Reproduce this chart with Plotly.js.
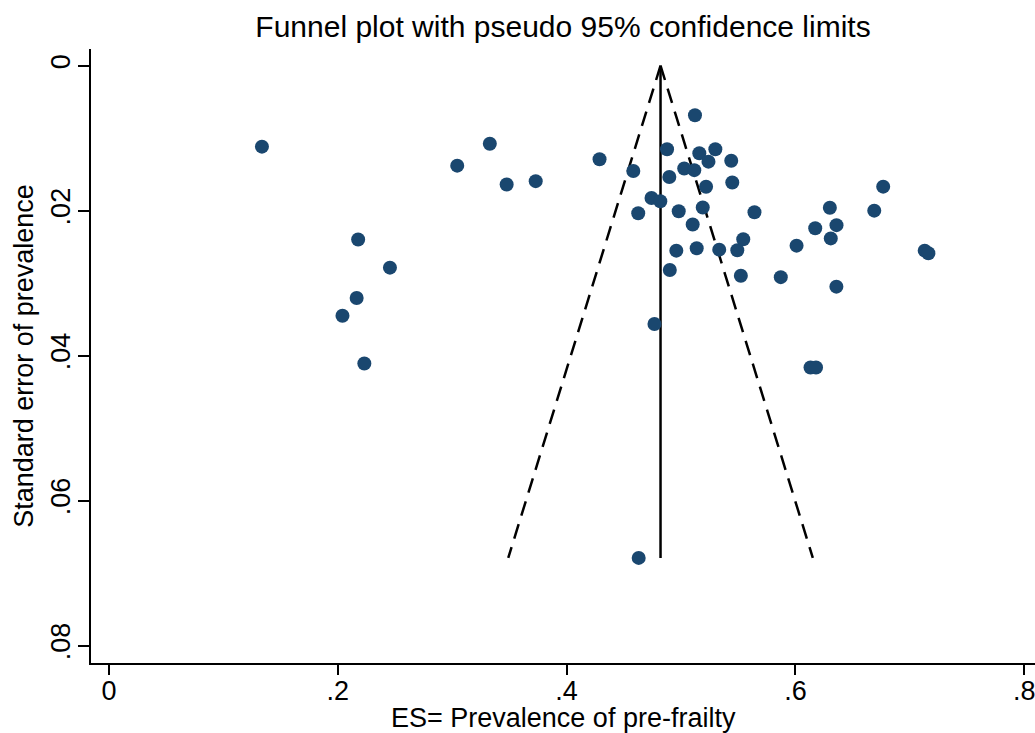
<!DOCTYPE html>
<html>
<head>
<meta charset="utf-8">
<script src="https://cdn.plot.ly/plotly-3.0.1.min.js"></script>
<style>
  html, body { margin: 0; padding: 0; background: #ffffff; }
  #chart { width: 1035px; height: 733px; }
</style>
</head>
<body>
<div id="chart"></div>
<script>
// Study effect sizes (prevalence of pre-frailty) and their standard errors
const es = [
  0.1337, 0.3329, 0.3044, 0.3476, 0.3730, 0.4288, 0.4583, 0.4626, 0.4742, 0.4819,
  0.4878, 0.4898, 0.5028, 0.5116, 0.5122, 0.5160, 0.5300, 0.5240, 0.5439, 0.5219,
  0.5448, 0.4980, 0.5190, 0.5642, 0.5102, 0.5544, 0.5492, 0.5334, 0.5137, 0.4959,
  0.4902, 0.5523, 0.5872, 0.6010, 0.6173, 0.6301, 0.6359, 0.6309, 0.6358, 0.6689,
  0.6767, 0.7130, 0.7162, 0.2178, 0.2456, 0.2165, 0.2041, 0.2232, 0.4768, 0.6132,
  0.6180, 0.4630
];
const se = [
  0.01117, 0.01077, 0.01379, 0.01639, 0.01593, 0.01290, 0.01452, 0.02036, 0.01825, 0.01870,
  0.01152, 0.01535, 0.01418, 0.01441, 0.00683, 0.01208, 0.01153, 0.01324, 0.01312, 0.01670,
  0.01611, 0.02008, 0.01956, 0.02022, 0.02190, 0.02394, 0.02546, 0.02538, 0.02519, 0.02552,
  0.02818, 0.02898, 0.02917, 0.02483, 0.02243, 0.01960, 0.02200, 0.02383, 0.03048, 0.02000,
  0.01669, 0.02552, 0.02588, 0.02397, 0.02786, 0.03204, 0.03450, 0.04108, 0.03563, 0.04163,
  0.04163, 0.06790
];

// Pooled estimate line and pseudo 95% confidence limits
const pooledX = [0.4821, 0.4821];
const pooledY = [0, 0.0679];
const lowerLimitX = [0.4821, 0.3490];
const lowerLimitY = [0, 0.0679];
const upperLimitX = [0.4821, 0.6152];
const upperLimitY = [0, 0.0679];

// Tick values and labels
const xTickVals = [0, 0.2, 0.4, 0.6, 0.8];
const xTickText = ["0", ".2", ".4", ".6", ".8"];
const yTickVals = [0, 0.02, 0.04, 0.06, 0.08];
const yTickText = ["0", ".02", ".04", ".06", ".08"];

const FONT = "Liberation Sans, Arial, Helvetica, sans-serif";

const traces = [
  {
    x: lowerLimitX, y: lowerLimitY, type: "scatter", mode: "lines",
    line: { color: "#000000", width: 2.5, dash: "15px,9px" },
    hoverinfo: "skip", showlegend: false
  },
  {
    x: upperLimitX, y: upperLimitY, type: "scatter", mode: "lines",
    line: { color: "#000000", width: 2.5, dash: "15px,9px" },
    hoverinfo: "skip", showlegend: false
  },
  {
    x: pooledX, y: pooledY, type: "scatter", mode: "lines",
    line: { color: "#000000", width: 2.5 },
    hoverinfo: "skip", showlegend: false
  },
  {
    x: es, y: se, type: "scatter", mode: "markers",
    marker: { color: "#1a476f", size: 14, line: { width: 0 } },
    showlegend: false
  }
];

const layout = {
  width: 1035, height: 733,
  paper_bgcolor: "#ffffff", plot_bgcolor: "#ffffff",
  margin: { l: 91, r: 0, t: 49, b: 70, pad: 0 },
  font: { family: FONT, color: "#000000", size: 27 },
  title: {
    text: "Funnel plot with pseudo 95% confidence limits",
    font: { family: FONT, size: 30, color: "#000000" },
    x: 0.5, xref: "paper", xanchor: "center",
    y: 1 - 26 / 733, yref: "container", yanchor: "middle"
  },
  annotations: [
    {
      text: "ES= Prevalence of pre-frailty",
      xref: "paper", yref: "paper", x: 0.5, y: 0,
      xanchor: "center", yanchor: "top", yshift: -38,
      showarrow: false,
      font: { family: FONT, size: 27, color: "#000000" }
    }
  ],
  xaxis: {
    range: [-0.0157, 0.8094],
    tickmode: "array", tickvals: xTickVals, ticktext: xTickText,
    ticks: "outside", ticklen: 10, tickwidth: 2, tickcolor: "#000000",
    ticklabelstandoff: -7, ticklabeloverflow: "allow",
    showline: true, linecolor: "#000000", linewidth: 2,
    showgrid: false, zeroline: false,
    tickfont: { family: FONT, size: 27, color: "#000000" },
    automargin: false
  },
  yaxis: {
    range: [0.0824, -0.0023],
    tickmode: "array", tickvals: yTickVals, ticktext: yTickText,
    tickangle: -90,
    ticks: "outside", ticklen: 11, tickwidth: 2, tickcolor: "#000000",
    ticklabelstandoff: -3, ticklabeloverflow: "allow",
    showline: true, linecolor: "#000000", linewidth: 2,
    showgrid: false, zeroline: false,
    tickfont: { family: FONT, size: 27, color: "#000000" },
    title: { text: "Standard error of prevalence", standoff: 5,
             font: { family: FONT, size: 27, color: "#000000" } },
    automargin: false
  },
  showlegend: false
};

Plotly.newPlot("chart", traces, layout, { staticPlot: true, displayModeBar: false });
</script>
</body>
</html>
